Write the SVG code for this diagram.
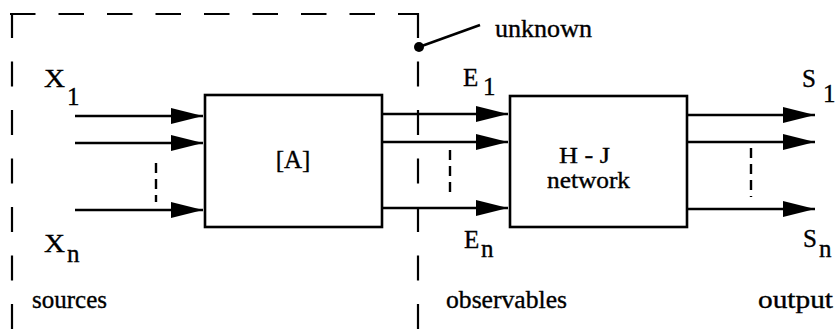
<svg xmlns="http://www.w3.org/2000/svg" width="836" height="331" viewBox="0 0 836 331">
<style>
  .box { fill: #fff; stroke: #000; stroke-width: 2.6; }
  .arr { stroke: #000; stroke-width: 2.6; fill: none; marker-end: url(#ah); }
  .bound { stroke: #000; stroke-width: 2.2; fill: none; }
  .dash { stroke: #000; stroke-width: 2.4; fill: none; stroke-dasharray: 10 6; }
  text { font-family: 'Liberation Serif', 'Times New Roman', serif; font-size: 25px; fill: #000; stroke: #000; stroke-width: 0.35; }
</style>
<defs>
  <marker id="ah" markerUnits="userSpaceOnUse" markerWidth="34" markerHeight="18" refX="32" refY="8" orient="auto">
    <path d="M0,0 L32,8 L0,16 Z" fill="#000"/>
  </marker>
</defs>
<rect width="836" height="331" fill="#fff"/>

<g id="boundary">
  <line class="bound" x1="10" y1="14" x2="419" y2="14" stroke-dasharray="25.5 23"/>
  <line class="bound" x1="12" y1="13" x2="12" y2="331" stroke-dasharray="25 23.5"/>
  <line class="bound" x1="418" y1="13" x2="418" y2="331" stroke-dasharray="25 23.5"/>
</g>

<g id="unknown">
  <circle cx="419" cy="47" r="5" fill="#000"/>
  <line x1="419" y1="47" x2="480" y2="25" stroke="#000" stroke-width="2.6"/>
  <text x="495" y="37" textLength="97" lengthAdjust="spacingAndGlyphs">unknown</text>
</g>

<g id="connectors">
  <line class="arr" x1="75" y1="116" x2="203" y2="116"/>
  <line class="arr" x1="75" y1="143" x2="203" y2="143"/>
  <line class="arr" x1="75" y1="210" x2="203" y2="210"/>
  <line class="arr" x1="382" y1="114" x2="508" y2="114"/>
  <line class="arr" x1="382" y1="142" x2="508" y2="142"/>
  <line class="arr" x1="382" y1="208" x2="508" y2="208"/>
  <line class="arr" x1="687" y1="115" x2="815" y2="115"/>
  <line class="arr" x1="687" y1="142" x2="815" y2="142"/>
  <line class="arr" x1="687" y1="209" x2="815" y2="209"/>
  <line class="dash" x1="156" y1="163" x2="156" y2="202"/>
  <line class="dash" x1="450" y1="150" x2="450" y2="198"/>
  <line class="dash" x1="751" y1="148" x2="751" y2="197"/>
</g>

<g id="nodeA">
  <rect class="box" x="205" y="95" width="177" height="132"/>
  <text x="293" y="168" text-anchor="middle">[A]</text>
</g>

<g id="nodeHJ">
  <rect class="box" x="510" y="96" width="177" height="131"/>
  <text x="559" y="163" style="font-size:23px" textLength="51" lengthAdjust="spacingAndGlyphs">H - J</text>
  <text x="547" y="188" style="font-size:23px" textLength="83" lengthAdjust="spacingAndGlyphs">network</text>
</g>

<g id="labels">
  <text x="44" y="87" textLength="21" lengthAdjust="spacingAndGlyphs">X</text><text x="67" y="105">1</text>
  <text x="44" y="252" textLength="21" lengthAdjust="spacingAndGlyphs">X</text><text x="67" y="262">n</text>
  <text x="463" y="86">E</text><text x="483" y="95">1</text>
  <text x="464" y="248">E</text><text x="481" y="257">n</text>
  <text x="802" y="87">S</text><text x="823" y="102">1</text>
  <text x="803" y="247">S</text><text x="819" y="257">n</text>
  <text x="32" y="308" textLength="75" lengthAdjust="spacingAndGlyphs">sources</text>
  <text x="446" y="308" textLength="121" lengthAdjust="spacingAndGlyphs">observables</text>
  <text x="758" y="308" textLength="75" lengthAdjust="spacingAndGlyphs">output</text>
</g>
</svg>
